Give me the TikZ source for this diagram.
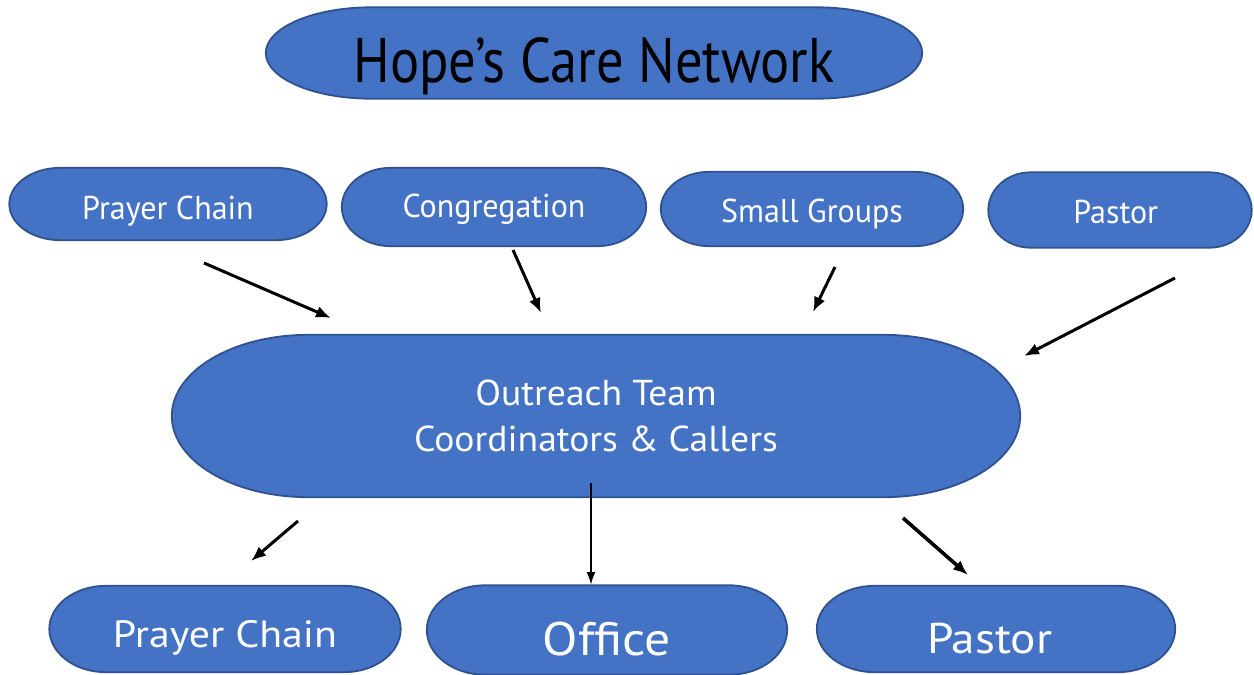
\documentclass[tikz,border=0pt]{standalone}
\usepackage{fontspec}
\setmainfont{PT Sans}
\newfontfamily\titlefont[FakeStretch=0.865]{PT Sans}
\newfontfamily\midfont[FakeStretch=1.045]{PT Sans}
\newfontfamily\topfont[FakeStretch=0.97]{PT Sans}
\newfontfamily\lowfont[FakeStretch=1.1]{PT Sans}
\usetikzlibrary{arrows.meta,backgrounds,calc}
\definecolor{boxblue}{HTML}{4472C4}
\definecolor{boxline}{HTML}{2F528F}
\tikzset{
	box/.style={inner sep=0pt, text=white, align=center, text depth=0pt},
	feed/.style={-{Latex[length=15pt,width=12pt]}, line width=3pt},
	termline/.style={fill=boxblue, draw=boxline, line width=1.8pt},
}
% outline with elliptic ends round a named node
\newcommand\termshape[1]{%
	\path[termline] let \p1=(#1.north west), \p2=(#1.south east),
		\n1={0.161*(\x2-\x1)}, \n2={0.5*(\y1-\y2)} in
		(\x1+\n1,\y1) -- (\x2-\n1,\y1)
		arc[start angle=90, end angle=-90, x radius=\n1, y radius=\n2]
		-- (\x1+\n1,\y2)
		arc[start angle=270, end angle=90, x radius=\n1, y radius=\n2] -- cycle;}
\begin{document}
\begin{tikzpicture}[x=1pt, y=-1pt]
	\useasboundingbox (0,0) rectangle (1254,675);
	% title
	\node[box, text=black, text height=58pt, minimum width=656pt, minimum height=91pt,
		font={\titlefont\fontsize{63}{66}\selectfont}] (title) at (594,53) {Hope’s Care Network};
	% sources
	\foreach \name/\pos/\bw/\bh/\th/\label in {
		pc/{168,204}/317/72/30/Prayer Chain,
		cong/{494,207}/304/78/20/Congregation,
		sg/{812,209}/302/74/26/Small Groups,
		past/{1120,210}/263/75/26/Pastor
	}{
	\node[box, text height=\th pt, minimum width=\bw pt, minimum height=\bh pt,
		font={\topfont\fontsize{33}{36}\selectfont}] (\name) at (\pos) {\label};
	}
	% team
	\node[box, minimum width=848pt, minimum height=162pt,
		font={\midfont\fontsize{36}{46}\selectfont}] (team) at (596,416)
		{Outreach Team\\Coordinators \& Callers};
	% targets
	\foreach \name/\pos/\bw/\bh/\fs/\th/\label in {
		pcb/{225,629}/351/86/38/36/Prayer Chain,
		off/{607,630}/360/89/47/50/Office,
		pastb/{996,629}/358/86/43/48/Pastor
	}{
	\node[box, text height=\th pt, minimum width=\bw pt, minimum height=\bh pt,
		font={\lowfont\fontsize{\fs}{\fs}\selectfont}] (\name) at (\pos) {\label};
	}
	\begin{scope}[on background layer]
		\foreach \nm in {title,pc,cong,sg,past,team,pcb,off,pastb}
			\termshape{\nm};
	\end{scope}
	% arrow ends
	\coordinate (pc-a) at (204,263);    \coordinate (pc-b) at (331,318);
	\coordinate (cong-a) at (513,250);  \coordinate (cong-b) at (541,313);
	\coordinate (sg-a) at (835,267);    \coordinate (sg-b) at (813,312);
	\coordinate (past-a) at (1175,278); \coordinate (past-b) at (1024,356);
	\coordinate (off-a) at (591,483);   \coordinate (off-b) at (591,585);
	\coordinate (pcb-a) at (298,521);   \coordinate (pcb-b) at (251,561);
	\coordinate (pastb-a) at (903,518); \coordinate (pastb-b) at (968,575);
	\foreach \nm in {pc,cong,sg,past,pcb}
		\draw[feed] (\nm-a) -- (\nm-b);
	\draw[feed, line width=2.2pt, -{Latex[length=13pt,width=9pt]}] (off-a) -- (off-b);
	\draw[feed, line width=3.6pt] (pastb-a) -- (pastb-b);
\end{tikzpicture}
\end{document}
